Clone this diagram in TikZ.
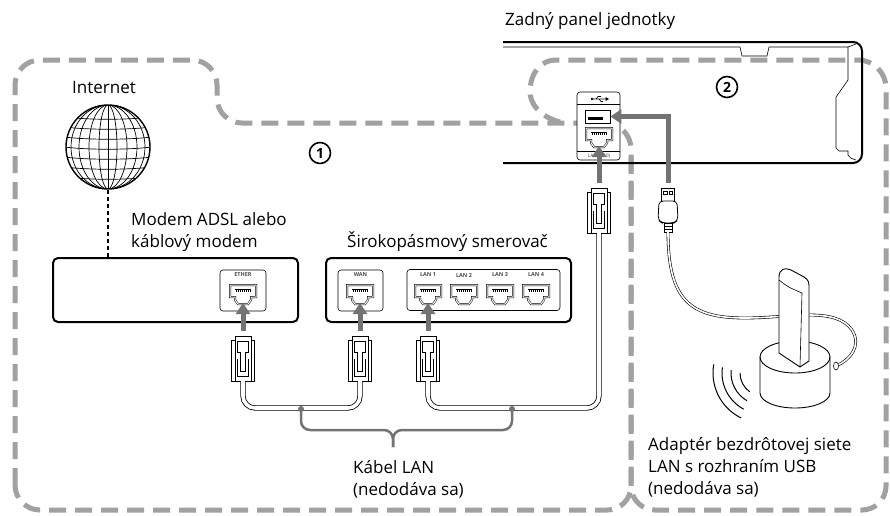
\documentclass[tikz,border=0pt]{standalone}
\usepackage{fontspec}
\setmainfont{Open Sans}
\usetikzlibrary{arrows.meta,positioning}
\tikzset{
  zone/.style={draw=black!37, line width=5pt, dash pattern=on 17pt off 9pt},
  devbox/.style={rectangle, rounded corners=5pt, draw=black, line width=2pt,
    fill=white, inner sep=0pt, minimum width=245pt, minimum height=64pt},
  portframe/.style={rectangle, rounded corners=3pt, draw=black, line width=0.6pt,
    fill=white, inner sep=0pt, minimum height=41pt},
  portlbl/.style={font=\fontsize{5.5}{6}\selectfont\bfseries, text=black!70, inner sep=0pt},
  lbl/.style={font=\fontsize{17}{22}\selectfont, align=left, inner sep=0pt},
  feed/.style={-{Triangle[width=14pt,length=11pt]}, line width=5pt, draw=black!55},
  lancable/.style={draw=black, double=white, double distance=3.6pt, line width=0.8pt,
    rounded corners=12pt},
  usbcable/.style={draw=black, double=white, double distance=1.6pt, line width=0.6pt},
  bracket/.style={draw=black!55, line width=2.5pt, rounded corners=9pt},
  num/.style={circle, draw=black, line width=1.6pt, inner sep=0pt, minimum size=21pt,
    font=\fontsize{14}{14}\selectfont\bfseries},
  % RJ45 socket, front view
  pics/rjjack/.style={code={
    \draw[draw=black, double=white, double distance=1pt, line width=0.5pt, fill=white]
      (-13,-10) -- (13,-10) -- (13,2) -- (8,2) -- (8,5) -- (5,9) -- (-5,9)
      -- (-8,5) -- (-8,2) -- (-13,2) -- cycle;
    \draw[line width=0.5pt] (-8,-6) -- (8,-6);
    \foreach \k in {-7,-5,...,7} \draw[line width=0.4pt] (\k,-6) -- (\k,-3);
    \coordinate (-in) at (0,8);
  }},
  % RJ45 plug, seen from above
  pics/rjplug/.style={code={
    \filldraw[fill=white, line width=0.8pt] (-8,-23) -- (8,-23) -- (8,-19) -- (11.5,-19)
      -- (11.5,22) -- (-11.5,22) -- (-11.5,-19) -- (-8,-19) -- cycle;
    \draw[line width=0.6pt] (-8,-19) -- (-8,22) (8,-19) -- (8,22);
    \draw[line width=0.6pt] (-5.5,-18) -- (5.5,-18) -- (5.5,-7) -- (2.5,-7) -- (2.5,12)
      -- (-2.5,12) -- (-2.5,-7) -- (-5.5,-7) -- cycle;
    \draw[line width=0.6pt] (-5.5,0) -- (-5.5,17) -- (5.5,17) -- (5.5,0);
    \coordinate (-top) at (0,-28);
    \coordinate (-bot) at (0,22);
  }},
  % USB-A plug
  pics/usbmale/.style={code={
    \filldraw[fill=white, line width=0.7pt] (-6.5,-22) rectangle (6.5,-9);
    \draw[line width=0.5pt] (-4.5,-19) rectangle (-1,-16) (1,-19) rectangle (4.5,-16);
    \filldraw[fill=white, line width=0.8pt, rounded corners=4pt] (-9,-9) -- (9,-9)
      -- (10,10) -- (6,13) -- (-6,13) -- (-10,10) -- cycle;
    \filldraw[fill=white, line width=0.6pt] (-4,13) rectangle (4,22);
    \draw[line width=0.5pt] (-4,16) -- (4,16) (-4,19) -- (4,19);
    \coordinate (-top) at (0,-27);
    \coordinate (-bot) at (0,22);
  }},
}

\begin{document}
\begin{tikzpicture}[x=1pt, y=-1pt]
\fill[white] (0,0) rectangle (890,515);
\useasboundingbox (0,0) rectangle (890,515);

% ===================== ZONES =====================
\draw[zone] (15,485) -- (15,85) arc[start angle=180, end angle=270, radius=25]
  -- (192,60) arc[start angle=270, end angle=360, radius=25]
  -- (217,98) arc[start angle=180, end angle=90, radius=25]
  -- (605,123) arc[start angle=270, end angle=360, radius=26]
  -- (631,486) arc[start angle=0, end angle=90, radius=24]
  -- (40,510) arc[start angle=90, end angle=180, radius=25] -- cycle;
\draw[zone] (560,122) .. controls (540,117) and (529,103) .. (530,90)
  .. controls (531,72) and (541,60) .. (556,60)
  -- (858,60) arc[start angle=270, end angle=360, radius=28]
  -- (886,486) arc[start angle=0, end angle=90, radius=24]
  -- (655,510) arc[start angle=90, end angle=180, radius=24] -- (631,149);

\node[num] (zone1) at (320,153) {1};
\node[num] (zone2) at (727,87) {2};

% ===================== INTERNET + MODEM =====================
\node[lbl, anchor=base] (inet) at (104,93) {Internet};
\node[circle, draw, line width=1.4pt, minimum size=84pt, inner sep=0pt] (globe) at (108,147) {};
\begin{scope}
  \clip (108,147) circle (42);
  \foreach \rx in {9,19,29,37}
    \draw[line width=0.7pt] (108,147) ellipse [x radius=\rx, y radius=42];
  \draw[line width=0.7pt] (108,105) -- (108,189);
  \foreach \d in {-30,-20,...,30}
    \draw[line width=0.7pt] (64,{147+\d}) .. controls (90,{150+\d}) and (126,{150+\d}) .. (152,{147+\d});
\end{scope}

\node[devbox] (modem) at (175.5,290) {};
\draw[line width=2.5pt, dash pattern=on 4pt off 3pt] (globe) -- (globe |- modem.north);
\node[lbl, anchor=base west] (modemlbl) at (131,247) {Modem ADSL alebo\\káblový modem};

\node[portframe, minimum width=46pt] (etherf) at (243,290.5) {};
\node[portlbl, below=2.5pt of etherf.north] {ETHER};
\pic (ether) at (243,295) {rjjack};

% ===================== ROUTER =====================
\node[devbox] (router) at (448.5,290) {};
\node[lbl, anchor=base west] (routerlbl) at (347,247) {Širokopásmový smerovač};

\node[portframe, minimum width=45pt] (wanf) at (360.5,290.5) {};
\node[portlbl, below=2.5pt of wanf.north] {WAN};
\pic (wan) at (360,295) {rjjack};

\node[portframe, minimum width=153pt] (lanf) at (483.5,290) {};
\foreach \i/\x in {1/428,2/464,3/500,4/536} {
  \node[portlbl] at (\x,275) {LAN \i};
  \pic (lan\i) at (\x,295) {rjjack};
}

% ===================== REAR PANEL OF THE UNIT =====================
\node[lbl, anchor=base west] (unitlbl) at (505,25) {Zadný panel jednotky};
\draw[line width=2pt, rounded corners=9pt] (503,42) -- (862,42) -- (862,163) -- (503,163);
\draw[line width=0.6pt] (503,47) -- (740,47) -- (742,56) -- (767,56) -- (769,47) -- (848,47)
  -- (848,80) -- (836,97) -- (836,148) -- (839,151) -- (848,151) -- (848,155);
\draw[line width=0.6pt] (848,47) -- (856,44);
\draw[line width=0.6pt] (848,155) .. controls (850,158) .. (856,160);

\node[rectangle, rounded corners=3pt, draw, line width=0.6pt, fill=white, minimum width=43pt,
  minimum height=68pt, inner sep=0pt] (ioplate) at (598.5,126) {};
\draw[line width=0.6pt] (577,104) -- (620,104) (577,151) -- (620,151);
% usb trident
\draw[line width=0.6pt] (593,99) -- (606,99) (596,99) -- (598,96.5) -- (601,96.5)
  (599,99) -- (601,101.5) -- (603,101.5);
\fill (592,99) circle (1.3);
\fill (609,99) -- (605.5,97) -- (605.5,101) -- cycle;
\node[rectangle, draw, line width=0.8pt, fill=white, minimum width=25pt, minimum height=13pt,
  inner sep=0pt] (usbport) at (597.5,116.5) {};
\fill (587.5,117) rectangle (603,120);
\pic (unitjack) at (599,138) {rjjack};
\node[portlbl, font=\fontsize{5}{6}\selectfont] at (599,156) {LAN (100)};

% ===================== LAN CABLES =====================
\pic (etherplug) at (243,359) {rjplug};
\pic (wanplug) at (360,359) {rjplug};
\pic (lan1plug) at (428,359) {rjplug};
\pic (unitplug) at (599,211) {rjplug};

\draw[feed] (etherplug-top) -- (ether-in);
\draw[feed] (wanplug-top) -- (wan-in);
\draw[feed] (lan1plug-top) -- (lan1-in);
\draw[feed] (unitplug-top) -- (unitjack-in);

\coordinate (tie1) at (301,408);
\coordinate (tie2) at (512,408);
\draw[lancable] (etherplug-bot) -- (etherplug-bot |- tie1) -- (wanplug-bot |- tie1) -- (wanplug-bot);
\draw[lancable] (lan1plug-bot) -- (lan1plug-bot |- tie2) -- (unitplug-bot |- tie2) -- (unitplug-bot);

\coordinate (bmid) at (393,430);
\coordinate (btip) at (393,447);
\draw[bracket] (tie1) -- (tie1 |- bmid) -- (bmid) -- (btip);
\draw[bracket] (tie2) -- (tie2 |- bmid) -- (bmid) -- (btip);
\fill[black!55] (tie1) ++(0,1) circle (3);
\fill[black!55] (tie2) ++(0,1) circle (3);
\node[lbl, anchor=base west] (cablelbl) at (353,495) {Kábel LAN\\(nedodáva sa)};

% ===================== USB WIRELESS ADAPTER =====================
\pic (usbplug) at (668,210) {usbmale};
\draw[feed] (usbplug-top) |- (usbport.east);

\coordinate (dock) at (836,366);
\draw[usbcable] (usbplug-bot) .. controls (668,300) and (690,318) .. (745,318)
  .. controls (790,318) and (835,306) .. (852,330) .. controls (862,346) and (850,360) .. (dock);

\filldraw[fill=white, line width=0.9pt] (760,357) -- (760,393)
  arc[start angle=180, end angle=0, x radius=35, y radius=15]
  -- (830,357) arc[start angle=0, end angle=-180, x radius=35, y radius=16] -- cycle;
\draw[line width=0.9pt] (760,357) arc[start angle=180, end angle=0, x radius=35, y radius=16];
\filldraw[fill=white, line width=0.6pt] (dock) ellipse [x radius=2.5, y radius=4];

\filldraw[fill=white, line width=0.9pt] (779,353) -- (779,277) .. controls (779,269) and (785,267) .. (791,270)
  -- (804,277) .. controls (809,280) and (809,283) .. (809,288) -- (809,361) -- (800,367) -- cycle;
\draw[line width=0.6pt] (779,280) .. controls (788,287) .. (802,293) -- (800,366);

\foreach \rad/\a/\b in {23/180/125, 32/185/120, 41/188/118, 50/190/116}
  \draw[line width=1pt] ([shift={(\a:\rad)}]763,373) arc[start angle=\a, end angle=\b, radius=\rad];

\node[lbl, anchor=base west] (adapterlbl) at (648,494)
  {Adaptér bezdrôtovej siete\\LAN s rozhraním USB\\(nedodáva sa)};

\end{tikzpicture}
\end{document}
